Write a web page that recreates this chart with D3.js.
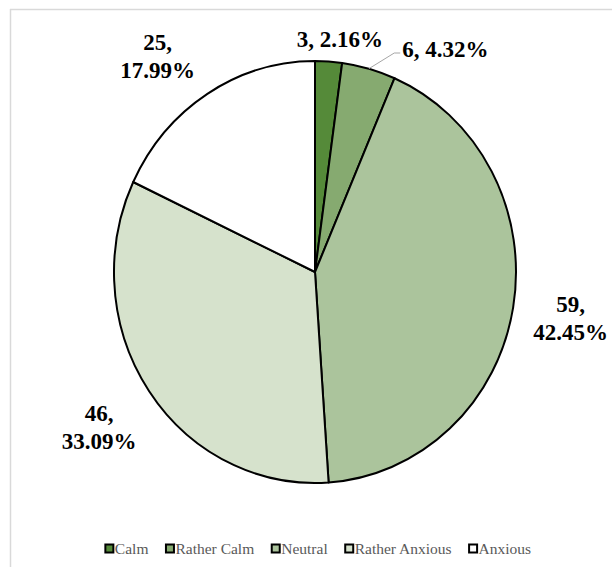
<!DOCTYPE html>
<html>
<head>
<meta charset="utf-8">
<script src="https://cdn.jsdelivr.net/npm/d3@7"></script>
<style>
  body { margin: 0; background: #fff; }
  svg { display: block; }
  .serif { font-family: "Liberation Serif", "Times New Roman", Times, serif; }
</style>
</head>
<body>
<div id="chart"></div>
<script>
var categories = ["Calm", "Rather Calm", "Neutral", "Rather Anxious", "Anxious"]
var counts = [3, 6, 59, 46, 25]
var percents = ["2.16%", "4.32%", "42.45%", "33.09%", "17.99%"]
var colors = ["#558a39", "#86aa70", "#abc49c", "#d6e2cc", "#ffffff"]

// label placement: [radius factor, angle shift in degrees, two lines?]
var labelLayout = [[1.11, 2.5, false], [1.24, 16, false], [1.29, 0, true], [1.30, 0, true], [1.29, -5, true]]

var w = 612, h = 567
var cx = 315, cy = 272
var rx = 201, ry = 211

var svg = d3.select("#chart").append("svg")
  .attr("width", w)
  .attr("height", h)

// frame (only top and left edges visible)
svg.append("line").attr("x1", 10).attr("x2", w).attr("y1", 9.5).attr("y2", 9.5)
  .attr("stroke", "#d9d9d9").attr("stroke-width", 1.5)
svg.append("line").attr("x1", 10.5).attr("x2", 10.5).attr("y1", 9).attr("y2", h)
  .attr("stroke", "#d9d9d9").attr("stroke-width", 1.5)

var data = categories.map(function(c, i) {
  return {name: c, value: counts[i], pct: percents[i], color: colors[i]}
})

var pie = d3.pie().sort(null).value(function(d) { return d.value })
var arcs = pie(data)

var arc = d3.arc().innerRadius(0).outerRadius(rx)

var g = svg.append("g")
  .attr("transform", "translate(" + cx + "," + cy + ") scale(1," + (ry / rx) + ")")

g.selectAll(".slice")
  .data(arcs)
  .enter()
  .append("path")
  .attr("class", "slice")
  .attr("d", arc)
  .attr("fill", function(d) { return d.data.color })
  .attr("stroke", "#000")
  .attr("stroke-width", 2)
  .attr("stroke-linejoin", "round")
  .attr("vector-effect", "non-scaling-stroke")

function pt(angle, f) {
  return [cx + rx * f * Math.sin(angle), cy - ry * f * Math.cos(angle)]
}

var labels = svg.append("g")
  .attr("class", "serif")
  .attr("font-weight", "bold")
  .attr("font-size", 23)
  .attr("fill", "#000")
  .attr("text-anchor", "middle")

arcs.forEach(function(d, i) {
  var lay = labelLayout[i]
  var mid = (d.startAngle + d.endAngle) / 2
  var a = mid + lay[1] * Math.PI / 180
  var p = pt(a, lay[0])
  var t = labels.append("text").attr("x", p[0])
  if (lay[2]) {
    t.append("tspan").attr("x", p[0]).attr("y", p[1] - 6).text(d.data.value + ",")
    t.append("tspan").attr("x", p[0]).attr("y", p[1] + 22).text(d.data.pct)
  } else {
    t.attr("y", p[1] + 8).text(d.data.value + ", " + d.data.pct)
  }
  if (lay[1] > 10) {
    // leader line from slice edge to label
    var e = pt(mid, 1.0)
    var tw = t.node().getComputedTextLength()
    svg.append("path")
      .attr("d", "M" + e[0] + "," + e[1] + "L" + (p[0] - tw / 2 - 8) + "," + (p[1] + 4) + "L" + (p[0] - tw / 2 - 2) + "," + (p[1] + 4))
      .attr("fill", "none")
      .attr("stroke", "#a6a6a6")
      .attr("stroke-width", 1)
  }
})

// legend
var legend = svg.append("g")
  .attr("class", "serif")
  .attr("font-size", 15.5)
  .attr("fill", "#595959")

var lx = 0
data.forEach(function(d) {
  var item = legend.append("g")
  item.append("rect")
    .attr("x", 0.5).attr("y", -4.5)
    .attr("width", 8).attr("height", 8)
    .attr("fill", d.color)
    .attr("stroke", "#000")
    .attr("stroke-width", 2)
  var txt = item.append("text")
    .attr("x", 10).attr("y", 5)
    .text(d.name)
  var tw = txt.node().getComputedTextLength()
  item.attr("transform", "translate(" + lx + ",0)")
  lx += 10 + tw + 17
})
var total = lx - 17
legend.attr("transform", "translate(" + (318 - total / 2) + ",549)")
</script>
</body>
</html>
